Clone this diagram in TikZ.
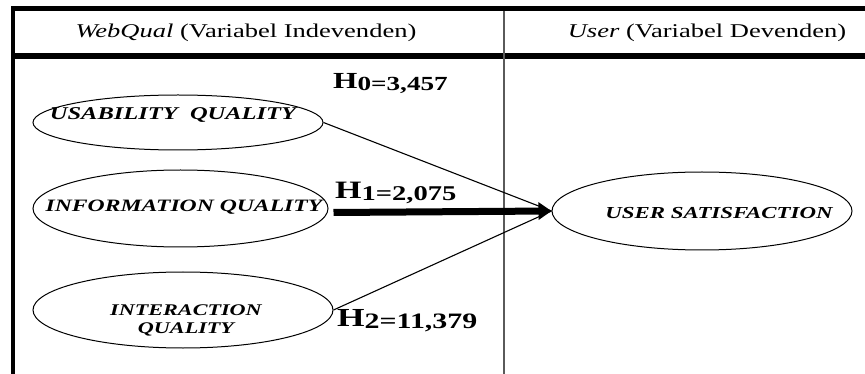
\documentclass[tikz,border=0pt]{standalone}
\usepackage{fontspec}
\setmainfont[FakeStretch=1.36]{Liberation Serif}
\usepackage{tikz}
\usetikzlibrary{shapes.geometric,arrows.meta}
\definecolor{divgray}{HTML}{5A5A5A}
\newcommand{\hval}[4]{{\fontsize{#1}{#1}\selectfont H}\raisebox{-2pt}{\fontsize{#2}{#2}\selectfont #3=#4}}

\begin{document}
\begin{tikzpicture}[x=1pt, y=-1pt,
    varbox/.style={draw, ellipse, line width=1pt, inner sep=0pt},
    vartext/.style={inner sep=0pt, anchor=base, font=\bfseries\itshape\fontsize{18}{19}\selectfont},
    headtext/.style={inner sep=0pt, anchor=base, font=\fontsize{19.5}{21}\selectfont},
    hyptext/.style={inner sep=0pt, anchor=base west, font=\bfseries},
    path/.style={line width=1.1pt}]
    \useasboundingbox (0,0) rectangle (865,374);

    % Table
    \fill (11,6) rectangle (865,11);
    \fill (11,53) rectangle (865,59);
    \fill (11,6) rectangle (15,374);
    \fill[divgray] (503,11) rectangle (505,374);
    \node[headtext] (indep) at (246,38) {\textit{WebQual} (Variabel Indevenden)};
    \node[headtext] (dep) at (707,38) {\textit{User} (Variabel Devenden)};

    % Variables
    \node[varbox, minimum width=290pt, minimum height=55pt] (usab) at (178,122.5) {};
    \node[vartext] (usabtext) at (173,120) {USABILITY\ \ QUALITY};

    \node[varbox, minimum width=295pt, minimum height=77pt] (info) at (180.5,208.5) {};
    \node[vartext, font=\bfseries\itshape\fontsize{17.4}{19}\selectfont] (infotext) at (184,212) {INFORMATION QUALITY};

    \node[varbox, minimum width=300pt, minimum height=76pt] (inter) at (183,310) {};
    \node[vartext, anchor=center, align=center, font=\bfseries\itshape\fontsize{16.3}{18}\selectfont]
        (intertext) at (186,320) {INTERACTION\\QUALITY};

    \node[varbox, minimum width=300pt, minimum height=78pt] (user) at (702,211) {};
    \node[vartext, font=\bfseries\itshape\fontsize{16.8}{18}\selectfont] (usertext) at (719,219) {USER SATISFACTION};

    % Paths
    \draw[path] (usab.east) -- (user.west);
    \draw[path] (inter.east) -- (user.west);
    \draw[line width=7pt, -{Triangle[length=13pt,width=17pt]}]
        ([xshift=5pt,yshift=-4pt]info.east) -- (user.west);

    % Labels
    \node[hyptext] (h0) at (333,89) {\hval{23}{20}{0}{3,457}};
    \node[hyptext] (h1) at (335,199) {\hval{25}{21}{1}{2,075}};
    \node[hyptext] (h2) at (337,326) {\hval{26}{22}{2}{11,379}};
\end{tikzpicture}
\end{document}
